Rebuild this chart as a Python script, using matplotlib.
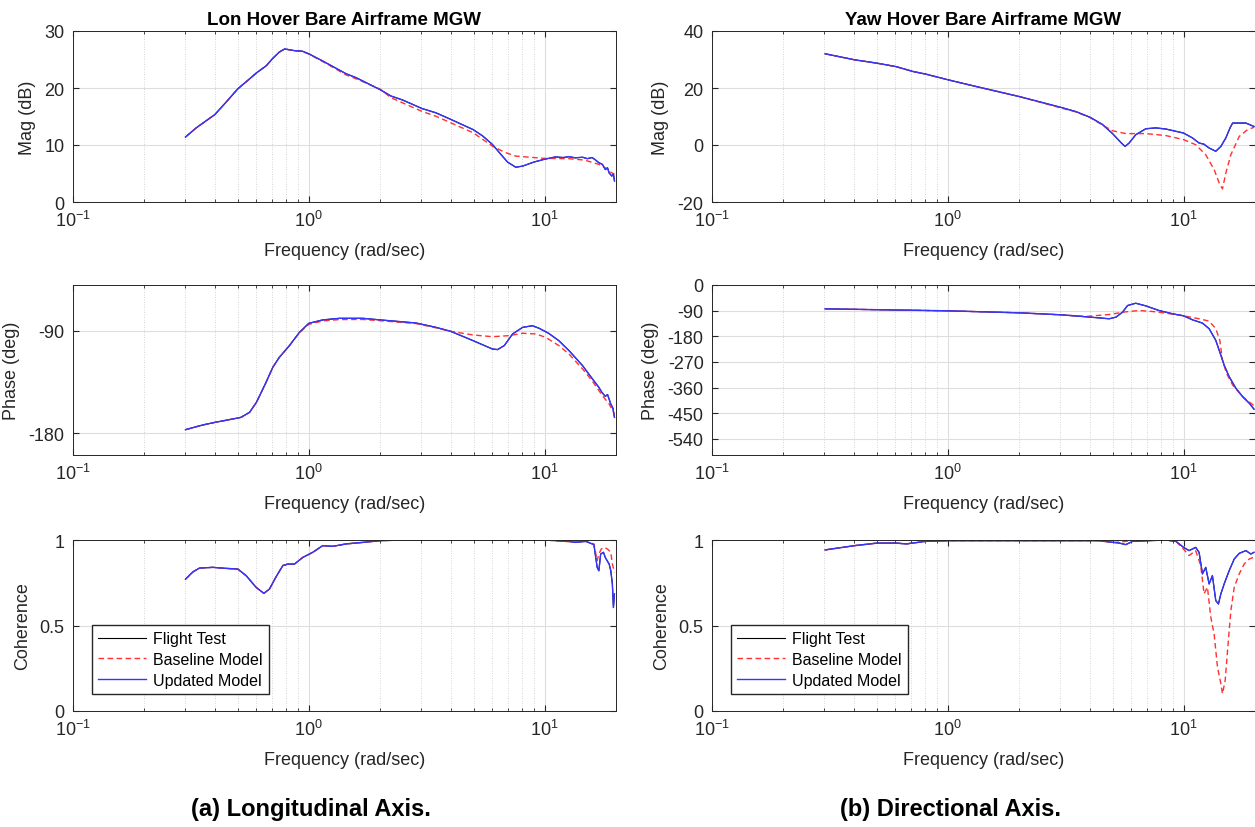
import matplotlib
matplotlib.use("Agg")
import matplotlib.pyplot as plt
from matplotlib.ticker import LogLocator, NullFormatter

plt.rcParams['font.family'] = ['Liberation Sans', 'DejaVu Sans']
plt.rcParams['mathtext.fontset'] = 'custom'
plt.rcParams['mathtext.rm'] = 'Liberation Sans'
plt.rcParams['axes.unicode_minus'] = False

# ---------------- Longitudinal axis (left column) ----------------
lon_mag_upd_f = [0.30, 0.333, 0.40, 0.45, 0.50, 0.55, 0.60, 0.66, 0.70, 0.75, 0.79, 0.87, 0.94, 1.0,
                 1.15, 1.44, 1.59, 2.01, 2.23, 2.50, 3.02, 3.46, 4.0, 4.98, 5.46, 6.01, 6.53, 6.97,
                 7.55, 8.08, 9.0, 10.0, 11.1, 12.0, 12.7, 13.5, 14.5, 15.2, 15.9, 16.3, 17.0, 17.6,
                 18.1, 18.5, 18.8, 19.3, 19.6, 19.8]
lon_mag_upd = [11.4, 13.0, 15.35, 17.7, 19.85, 21.3, 22.65, 23.9, 25.1, 26.3, 26.85, 26.55, 26.45, 26.0,
               24.7, 22.5, 21.8, 19.7, 18.6, 17.9, 16.4, 15.65, 14.5, 12.7, 11.6, 10.1, 8.35, 7.0,
               6.1, 6.3, 7.0, 7.5, 7.9, 7.8, 7.95, 7.75, 7.85, 7.6, 7.8, 7.5, 6.9, 6.6,
               5.7, 6.0, 5.1, 4.55, 4.9, 3.7]
lon_mag_base_f = [0.30, 0.333, 0.40, 0.45, 0.50, 0.55, 0.60, 0.66, 0.70, 0.75, 0.79, 0.87, 0.94, 1.0,
                  1.15, 1.44, 1.59, 2.01, 2.23, 2.50, 3.02, 3.46, 4.0, 4.98, 6.01, 6.75, 7.55, 9.0,
                  10.0, 12.7, 14.8, 17.0, 18.1, 19.0, 19.8]
lon_mag_base = [11.4, 13.0, 15.35, 17.7, 19.85, 21.3, 22.65, 23.9, 25.1, 26.3, 26.85, 26.55, 26.4, 25.95,
                24.6, 22.3, 21.6, 19.8, 18.3, 17.4, 15.9, 15.05, 13.9, 12.15, 9.8, 8.75, 8.05, 7.8,
                7.65, 7.6, 7.35, 6.6, 6.0, 5.3, 4.85]

lon_ph_upd_f = [0.30, 0.355, 0.40, 0.461, 0.516, 0.561, 0.60, 0.659, 0.704, 0.75, 0.828, 0.913, 1.0,
                1.146, 1.349, 1.694, 2.01, 2.85, 3.46, 4.0, 4.98, 6.01, 6.32, 6.75, 7.32, 8.08, 8.89,
                9.5, 10.4, 11.5, 12.7, 14.5, 15.9, 17.0, 17.5, 18.1, 18.5, 19.1, 19.5, 19.8]
lon_ph_upd = [-176.8, -172.7, -170.4, -168.0, -166.0, -161.6, -152.8, -135.3, -122.1, -113.4, -103.1,
              -91.5, -83.6, -80.6, -79.2, -79.2, -80.6, -83.3, -87.1, -90.6, -98.8, -106.1, -106.6,
              -103.1, -92.9, -87.1, -85.7, -88.0, -92.3, -98.8, -107.5, -120.7, -131.8, -139.7,
              -144.0, -147.6, -146.0, -154.3, -158.0, -166.0]
lon_ph_base_f = [0.30, 0.355, 0.40, 0.461, 0.516, 0.561, 0.60, 0.659, 0.704, 0.75, 0.828, 0.913, 1.0,
                 1.146, 1.349, 1.694, 2.01, 2.85, 3.46, 4.0, 4.98, 6.01, 7.07, 8.08, 9.17, 10.1, 11.5,
                 12.7, 14.5, 15.9, 17.6, 18.8, 19.8]
lon_ph_base = [-176.8, -172.7, -170.4, -168.0, -166.0, -161.6, -152.8, -135.3, -122.1, -113.4, -103.1,
               -91.8, -84.5, -81.5, -80.3, -80.2, -81.3, -83.8, -87.5, -90.6, -93.8, -95.3, -94.4,
               -92.3, -92.9, -95.8, -103.1, -110.5, -123.6, -133.8, -147.0, -154.3, -163.1]

lon_coh_upd_f = [0.30, 0.323, 0.344, 0.392, 0.446, 0.50, 0.543, 0.598, 0.645, 0.681, 0.727, 0.776,
                 0.815, 0.869, 0.943, 1.04, 1.146, 1.264, 1.439, 1.694, 2.01, 2.50, 6.64, 10.0, 12.7,
                 13.5, 14.96, 16.2, 16.72, 17.0, 17.3, 17.78, 18.1, 18.8, 19.1, 19.4, 19.6, 19.8]
lon_coh_upd = [0.771, 0.814, 0.836, 0.840, 0.834, 0.830, 0.791, 0.723, 0.688, 0.713, 0.785, 0.850,
               0.859, 0.859, 0.898, 0.928, 0.967, 0.963, 0.977, 0.986, 0.996, 1.0, 1.0, 1.0, 0.992,
               0.986, 0.992, 0.973, 0.840, 0.820, 0.918, 0.928, 0.898, 0.859, 0.820, 0.742, 0.605, 0.684]
lon_coh_base_f = [0.30, 0.323, 0.344, 0.392, 0.446, 0.50, 0.543, 0.598, 0.645, 0.681, 0.727, 0.776,
                  0.815, 0.869, 0.943, 1.04, 1.146, 1.264, 1.439, 1.694, 2.01, 2.50, 6.64, 10.0, 12.7,
                  14.96, 16.2, 16.72, 17.0, 17.4, 17.9, 18.5, 19.1, 19.4, 19.8]
lon_coh_base = [0.771, 0.814, 0.836, 0.840, 0.834, 0.830, 0.791, 0.723, 0.688, 0.713, 0.785, 0.852,
                0.859, 0.859, 0.898, 0.928, 0.967, 0.963, 0.977, 0.986, 0.996, 1.0, 1.0, 1.0, 0.990,
                0.992, 0.977, 0.879, 0.918, 0.947, 0.957, 0.947, 0.928, 0.859, 0.811]

# ---------------- Directional axis (right column) ----------------
yaw_mag_upd_f = [0.302, 0.402, 0.502, 0.604, 0.711, 0.804, 1.0, 1.276, 2.01, 3.02, 3.50, 4.02, 4.53,
                 5.0, 5.42, 5.65, 5.88, 6.27, 6.92, 7.63, 8.42, 9.29, 10.0, 10.9, 11.64, 12.2, 12.84,
                 13.7, 14.4, 15.12, 15.75, 16.15, 17.23, 18.39, 19.9]
yaw_mag_upd = [32.0, 29.9, 28.7, 27.5, 25.8, 24.9, 22.9, 20.8, 17.0, 13.2, 11.7, 9.7, 7.2,
               4.0, 0.9, -0.5, 0.7, 3.6, 5.7, 6.0, 5.6, 4.8, 4.2, 2.5, 0.7, 0.3, -1.05,
               -2.2, -0.5, 2.5, 6.0, 7.7, 7.7, 7.7, 6.5]
yaw_mag_base_f = [0.302, 0.402, 0.502, 0.604, 0.711, 0.804, 1.0, 1.276, 2.01, 3.02, 3.50, 4.02, 4.53,
                  5.0, 5.69, 6.92, 8.42, 10.0, 11.26, 12.42, 13.48, 14.16, 14.63, 15.12, 15.88, 17.23,
                  18.69, 19.9]
yaw_mag_base = [32.0, 29.9, 28.7, 27.5, 25.8, 24.9, 22.9, 20.8, 17.0, 13.0, 11.6, 9.6, 7.0,
                5.0, 4.0, 4.0, 3.3, 1.9, 0.1, -3.4, -8.6, -13.3, -15.4, -9.8, -3.4, 3.0,
                5.4, 6.2]

yaw_ph_upd_f = [0.302, 0.451, 1.0, 2.01, 3.02, 4.02, 4.84, 5.17, 5.51, 5.79, 6.27, 6.92, 7.87, 9.0,
                10.0, 10.9, 12.03, 12.84, 13.7, 14.4, 14.87, 15.62, 16.68, 17.8, 19.0, 19.9]
yaw_ph_upd = [-83.7, -86.1, -90.7, -97.7, -104.7, -112.8, -118.6, -112.8, -95.4, -72.1, -64.0, -73.3,
              -89.6, -101.2, -108.2, -122.1, -133.8, -153.5, -194.2, -246.6, -281.5, -322.2, -362.8,
              -392.0, -415.0, -436.0]
yaw_ph_base_f = [0.302, 0.451, 1.0, 2.01, 3.02, 3.86, 4.84, 5.69, 6.48, 7.39, 8.42, 10.0, 11.64, 12.84,
                 13.7, 14.25, 14.63, 15.22, 16.15, 17.8, 19.9]
yaw_ph_base = [-83.7, -86.1, -90.7, -97.7, -104.7, -110.5, -103.5, -94.2, -89.6, -93.1, -98.9, -108.2,
               -118.6, -126.8, -153.5, -194.2, -264.0, -310.5, -351.0, -392.0, -424.0]

yaw_coh_upd_f = [0.302, 0.402, 0.502, 0.604, 0.666, 0.804, 1.0, 4.39, 5.34, 5.69, 6.08, 8.42, 9.29,
                 10.0, 10.56, 11.26, 11.64, 12.03, 12.42, 12.84, 13.26, 13.70, 14.06, 14.40, 14.87,
                 15.62, 16.41, 17.23, 18.39, 19.3, 19.9]
yaw_coh_upd = [0.942, 0.967, 0.982, 0.982, 0.977, 0.992, 0.996, 0.996, 0.982, 0.973, 0.992, 1.0, 0.992,
               0.957, 0.938, 0.957, 0.928, 0.802, 0.840, 0.743, 0.792, 0.646, 0.626, 0.685, 0.743,
               0.821, 0.889, 0.922, 0.938, 0.918, 0.928]
yaw_coh_base_f = [0.302, 0.402, 0.502, 0.604, 0.666, 0.804, 1.0, 4.39, 5.0, 5.51, 6.08, 8.42, 9.29,
                  10.0, 10.56, 11.26, 11.83, 12.22, 12.63, 13.05, 13.48, 13.93, 14.40, 14.63, 15.02,
                  15.37, 15.88, 16.41, 17.23, 18.09, 19.0, 19.9]
yaw_coh_base = [0.942, 0.967, 0.982, 0.982, 0.977, 0.992, 0.996, 0.996, 0.985, 0.990, 0.996, 1.0, 0.992,
                0.947, 0.909, 0.938, 0.850, 0.685, 0.724, 0.549, 0.451, 0.257, 0.160, 0.101, 0.179,
                0.354, 0.588, 0.724, 0.802, 0.860, 0.889, 0.899]

# flight test curves coincide with the updated model in the figure
lon_mag_ft, lon_ph_ft, lon_coh_ft = lon_mag_upd, lon_ph_upd, lon_coh_upd
yaw_mag_ft, yaw_ph_ft, yaw_coh_ft = yaw_mag_upd, yaw_ph_upd, yaw_coh_upd

red = '#ff3030'
blue = '#3535ff'
txt = '#262626'

fig = plt.figure(figsize=(12.55, 8.28), dpi=100)

W, H = 1255, 828
cols = [73, 712]
rows = [(32, 203), (286, 456), (541, 712)]
width = 542.5


def make_ax(col, row):
    x0 = cols[col]
    top, bot = rows[row]
    return fig.add_axes([x0 / W, 1 - bot / H, width / W, (bot - top) / H])


def style(ax, ylim, yticks, ylabel, yticklabels=None):
    ax.set_xscale('log')
    ax.set_xlim(0.1, 20)
    ax.set_ylim(*ylim)
    ax.set_yticks(yticks)
    if yticklabels is not None:
        ax.set_yticklabels(yticklabels)
    ax.xaxis.set_major_locator(LogLocator(base=10, numticks=10))
    ax.xaxis.set_minor_locator(LogLocator(base=10, subs=range(2, 10), numticks=20))
    ax.xaxis.set_minor_formatter(NullFormatter())
    ax.grid(True, which='major', color='#dedede', lw=0.8, ls='-')
    ax.grid(True, which='minor', axis='x', color='#c8c8c8', lw=0.6, ls=(0, (1, 2)))
    ax.set_axisbelow(True)
    ax.tick_params(which='both', direction='in', top=True, right=True, colors=txt,
                   labelsize=13)
    ax.tick_params(which='major', length=4, pad=6)
    ax.tick_params(which='minor', length=2)
    for s in ax.spines.values():
        s.set_color(txt)
        s.set_linewidth(0.7)
    ax.set_xlabel('Frequency (rad/sec)', fontsize=13, color=txt, labelpad=8)
    ax.set_ylabel(ylabel, fontsize=13, color=txt, labelpad=6)


def draw(ax, fu, vu, ft_v, fb, vb):
    l1, = ax.plot(fu, ft_v, color='black', lw=0.8)
    l2, = ax.plot(fb, vb, color=red, lw=1.0, dashes=(4, 2.5))
    l3, = ax.plot(fu, vu, color=blue, lw=1.0)
    return l1, l2, l3


def add_legend(ax, handles):
    ax.legend(handles, ['Flight Test', 'Baseline Model', 'Updated Model'], loc='lower left',
              bbox_to_anchor=(0.035, 0.10), borderaxespad=0, fontsize=11.5, fancybox=False,
              edgecolor=txt, framealpha=1, handlelength=3.0, borderpad=0.4,
              labelspacing=0.35, handletextpad=0.4)


# left column
ax = make_ax(0, 0)
draw(ax, lon_mag_upd_f, lon_mag_upd, lon_mag_ft, lon_mag_base_f, lon_mag_base)
style(ax, (0, 30), [0, 10, 20, 30], 'Mag (dB)')
ax.set_title('Lon Hover Bare Airframe MGW', fontsize=13.5, fontweight='bold', pad=5)

ax = make_ax(0, 1)
draw(ax, lon_ph_upd_f, lon_ph_upd, lon_ph_ft, lon_ph_base_f, lon_ph_base)
style(ax, (-199, -50), [-180, -90], 'Phase (deg)')

ax = make_ax(0, 2)
h = draw(ax, lon_coh_upd_f, lon_coh_upd, lon_coh_ft, lon_coh_base_f, lon_coh_base)
style(ax, (0, 1), [0, 0.5, 1], 'Coherence', ['0', '0.5', '1'])
add_legend(ax, h)

# right column
ax = make_ax(1, 0)
draw(ax, yaw_mag_upd_f, yaw_mag_upd, yaw_mag_ft, yaw_mag_base_f, yaw_mag_base)
style(ax, (-20, 40), [-20, 0, 20, 40], 'Mag (dB)')
ax.set_title('Yaw Hover Bare Airframe MGW', fontsize=13.5, fontweight='bold', pad=5)

ax = make_ax(1, 1)
draw(ax, yaw_ph_upd_f, yaw_ph_upd, yaw_ph_ft, yaw_ph_base_f, yaw_ph_base)
style(ax, (-597, 0), [-540, -450, -360, -270, -180, -90, 0], 'Phase (deg)')

ax = make_ax(1, 2)
h = draw(ax, yaw_coh_upd_f, yaw_coh_upd, yaw_coh_ft, yaw_coh_base_f, yaw_coh_base)
style(ax, (0, 1), [0, 0.5, 1], 'Coherence', ['0', '0.5', '1'])
add_legend(ax, h)

fig.text(311 / W, 1 - 810 / H, '(a) Longitudinal Axis.', ha='center', va='center',
         fontsize=17, fontweight='bold')
fig.text(951 / W, 1 - 810 / H, '(b) Directional Axis.', ha='center', va='center',
         fontsize=17, fontweight='bold')

fig.savefig('out.png', dpi=100)
